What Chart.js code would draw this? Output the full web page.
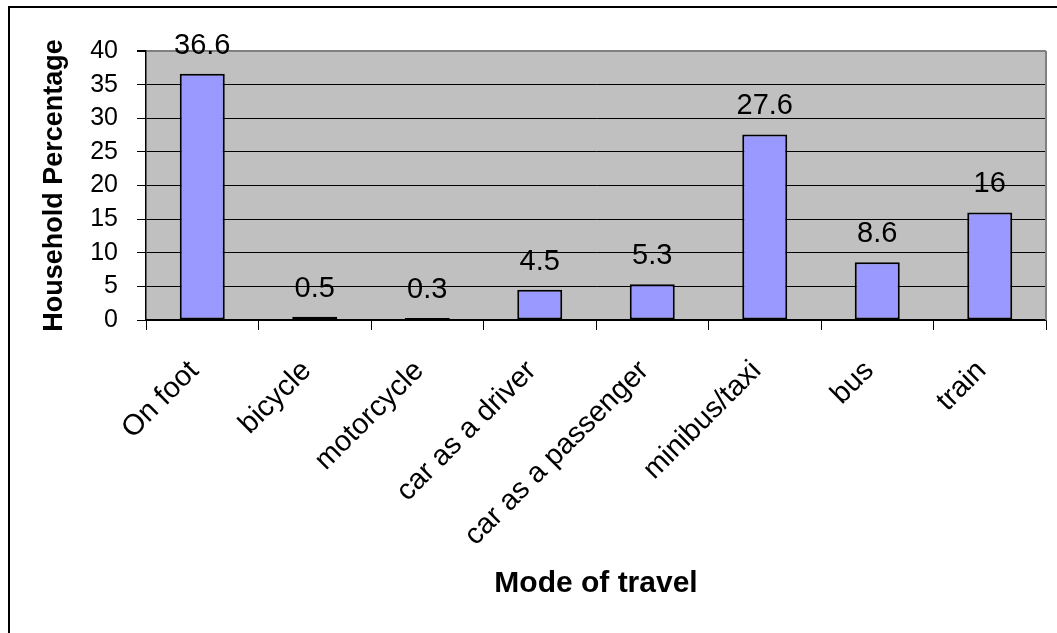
<!DOCTYPE html>
<html>
<head>
<meta charset="utf-8">
<script src="https://cdn.jsdelivr.net/npm/chart.js@4.4.0/dist/chart.umd.min.js"></script>
<style>
  html, body { margin: 0; padding: 0; background: #fff; }
  canvas { display: block; }
</style>
</head>
<body>
<canvas id="myChart" width="1057" height="633"></canvas>
<script>
const modes = ['On foot', 'bicycle', 'motorcycle', 'car as a driver', 'car as a passenger', 'minibus/taxi', 'bus', 'train'];
const householdPct = [36.6, 0.5, 0.3, 4.5, 5.3, 27.6, 8.6, 16];
const yMin = 0, yMax = 40, yStep = 5;

const FONT = "'Liberation Sans', Arial, sans-serif";

// grey plot area, outer frame and right border of the plot
const frame = {
    id: 'frame',
    beforeDraw(chart) {
        const { ctx, chartArea: a, width, height } = chart;
        ctx.save();
        ctx.fillStyle = '#fff';
        ctx.fillRect(0, 0, width, height);
        ctx.fillStyle = '#c0c0c0';
        ctx.fillRect(a.left, a.top, a.right - a.left, a.bottom - a.top);
        ctx.strokeStyle = '#000';
        ctx.lineWidth = 2;
        ctx.beginPath();
        ctx.moveTo(9, height);
        ctx.lineTo(9, 7);
        ctx.lineTo(width, 7);
        ctx.stroke();
        ctx.restore();
    },
    afterDraw(chart) {
        const { ctx, chartArea: a } = chart;
        ctx.save();
        ctx.strokeStyle = '#808080';
        ctx.lineWidth = 2;
        ctx.beginPath();
        ctx.moveTo(a.right, a.top);
        ctx.lineTo(a.right, a.bottom);
        ctx.stroke();
        ctx.restore();
    }
};

// value written above each bar
const barValues = {
    id: 'barValues',
    afterDatasetsDraw(chart) {
        const { ctx } = chart;
        const meta = chart.getDatasetMeta(0);
        ctx.save();
        ctx.font = '29px ' + FONT;
        ctx.fillStyle = '#000';
        ctx.textAlign = 'center';
        ctx.textBaseline = 'middle';
        meta.data.forEach((bar, i) => {
            ctx.fillText(String(householdPct[i]), bar.x, bar.y - 28);
        });
        ctx.restore();
    }
};

const ctx = document.getElementById('myChart').getContext('2d');

const myChart = new Chart(ctx, {
    type: 'bar',
    data: {
        labels: modes,
        datasets: [{
            data: householdPct,
            backgroundColor: '#9999ff',
            borderColor: '#000',
            borderWidth: 2,
            borderSkipped: false,
            barPercentage: 0.4,
            categoryPercentage: 1
        }]
    },
    options: {
        responsive: false,
        animation: false,
        layout: { padding: { top: 51, right: 11, left: 0, bottom: 0 } },
        plugins: {
            legend: { display: false },
            tooltip: { enabled: false }
        },
        scales: {
            x: {
                afterFit: (s) => { s.height = 313; },
                grid: {
                    offset: true,
                    drawOnChartArea: false,
                    tickLength: 10,
                    tickColor: '#000'
                },
                border: { color: '#000', width: 1.5 },
                ticks: {
                    autoSkip: false,
                    minRotation: 45,
                    maxRotation: 45,
                    padding: 24,
                    labelOffset: -8,
                    color: '#000',
                    font: { family: FONT, size: 29 }
                },
                title: {
                    display: true,
                    text: 'Mode of travel',
                    color: '#000',
                    font: { family: FONT, size: 30, weight: 'bold' },
                    padding: { top: 0, bottom: 31 }
                }
            },
            y: {
                min: yMin,
                max: yMax,
                afterFit: (s) => { s.width = 146; },
                grid: {
                    color: (c) => (c.tick && c.tick.value === yMax) ? '#808080' : '#000',
                    lineWidth: (c) => (c.tick && c.tick.value === yMax) ? 2 : 1,
                    tickLength: 9,
                    tickColor: '#000'
                },
                border: { color: '#000', width: 1.5 },
                ticks: {
                    stepSize: yStep,
                    padding: 19,
                    color: '#000',
                    font: { family: FONT, size: 25 }
                },
                title: {
                    display: true,
                    text: 'Household Percentage',
                    color: '#000',
                    font: { family: FONT, size: 27, weight: 'bold' },
                    padding: { top: 38, bottom: 0 }
                }
            }
        }
    },
    plugins: [frame, barValues]
});
</script>
</body>
</html>
